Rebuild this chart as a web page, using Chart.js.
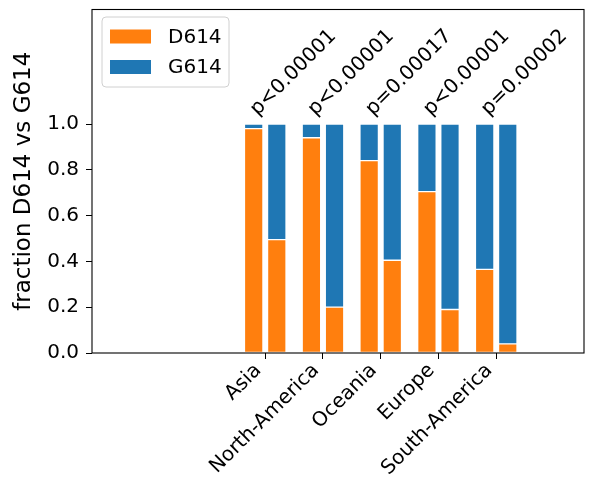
<!DOCTYPE html>
<html lang="en">
<head>
<meta charset="UTF-8">
<title>D614 vs G614</title>
<script src="https://cdn.jsdelivr.net/npm/chart.js"></script>
<style>
  body { margin: 0; background: #fff; }
</style>
</head>
<body>
<canvas id="chart" width="595" height="481"></canvas>
<script>
// data
const regions = ['Asia', 'North-America', 'Oceania', 'Europe', 'South-America'];
// fraction D614 in the left and right bar of each region
const d614Left = [0.98, 0.94, 0.84, 0.705, 0.365];
const d614Right = [0.495, 0.20, 0.405, 0.19, 0.04];
const pLabels = ['p<0.00001', 'p<0.00001', 'p=0.00017', 'p<0.00001', 'p=0.00002'];
const yTicks = [0, 0.2, 0.4, 0.6, 0.8, 1.0];

const orange = '#ff7f0e';
const blue = '#1f77b4';
const FS = 20;

Chart.defaults.font.family = 'DejaVu Sans';
Chart.defaults.font.size = FS;
Chart.defaults.color = '#000';

let dPts = [];
let gPts = [];
regions.forEach((r, i) => {
    dPts.push({x: i - 0.2, y: [0, d614Left[i]]});
    dPts.push({x: i + 0.2, y: [0, d614Right[i]]});
    gPts.push({x: i - 0.2, y: [d614Left[i], 1]});
    gPts.push({x: i + 0.2, y: [d614Right[i], 1]});
});

const framePlugin = {
    id: 'frame',
    afterDatasetsDraw(chart) {
        const ctx = chart.ctx, a = chart.chartArea;
        ctx.save();
        ctx.strokeStyle = '#000';
        ctx.lineWidth = 1.1;
        ctx.strokeRect(a.left, a.top, a.right - a.left, a.bottom - a.top);
        ctx.restore();
    }
};

const pPlugin = {
    id: 'pvalues',
    afterDatasetsDraw(chart) {
        const ctx = chart.ctx;
        const xs = chart.scales.x, ys = chart.scales.y;
        ctx.save();
        ctx.font = FS + 'px "DejaVu Sans"';
        ctx.fillStyle = '#000';
        ctx.textAlign = 'left';
        ctx.textBaseline = 'alphabetic';
        pLabels.forEach((t, i) => {
            const px = xs.getPixelForValue(i - 0.32);
            const py = ys.getPixelForValue(1.02);
            ctx.save();
            ctx.translate(px + 0.707 * 0.76 * FS, py - 0.707 * 0.24 * FS);
            ctx.rotate(-Math.PI / 4);
            ctx.fillText(t, 0, 0);
            ctx.restore();
        });
        ctx.restore();
    }
};

const legendPlugin = {
    id: 'boxLegend',
    afterDraw(chart) {
        const ctx = chart.ctx, a = chart.chartArea;
        const x0 = a.left + 10, y0 = a.top + 7.5, w = 127, h = 70, r = 4;
        ctx.save();
        ctx.beginPath();
        ctx.roundRect(x0, y0, w, h, r);
        ctx.fillStyle = 'rgba(255,255,255,0.8)';
        ctx.fill();
        ctx.strokeStyle = '#d0d0d0';
        ctx.lineWidth = 1;
        ctx.stroke();
        ctx.font = FS + 'px "DejaVu Sans"';
        ctx.textBaseline = 'middle';
        ctx.textAlign = 'left';
        chart.data.datasets.forEach((ds, i) => {
            const cy = a.top + 27 + i * 30.5;
            ctx.fillStyle = ds.backgroundColor;
            ctx.fillRect(a.left + 18, cy - 7, 41, 14);
            ctx.fillStyle = '#000';
            ctx.fillText(ds.label, a.left + 76, cy + 1);
        });
        ctx.restore();
    }
};

new Chart(document.getElementById('chart'), {
    type: 'bar',
    data: {
        datasets: [
            {label: 'D614', data: dPts, backgroundColor: orange, borderColor: 'rgba(255,255,255,0.35)', borderWidth: 1, borderSkipped: false, grouped: false, barThickness: 18.5},
            {label: 'G614', data: gPts, backgroundColor: blue, borderColor: 'rgba(255,255,255,0.35)', borderWidth: 1, borderSkipped: false, grouped: false, barThickness: 18.5}
        ]
    },
    options: {
        responsive: false,
        animation: false,
        devicePixelRatio: 1,
        layout: {padding: {left: 0, top: 9.5, right: 11, bottom: 0}},
        plugins: {legend: {display: false}, tooltip: {enabled: false}},
        scales: {
            x: {
                type: 'linear',
                min: -3,
                max: 5.52,
                offset: false,
                border: {display: false},
                grid: {offset: false, drawOnChartArea: false, drawTicks: true, tickLength: 6, color: '#000'},
                afterBuildTicks: s => { s.ticks = regions.map((r, i) => ({value: i})); },
                afterFit: s => { s.height = 128; s.paddingLeft = 0; s.paddingRight = 0; },
                ticks: {
                    minRotation: 45,
                    maxRotation: 45,
                    padding: 0,
                    labelOffset: -7,
                    callback: v => regions[v]
                }
            },
            y: {
                min: 0,
                max: 1.5,
                border: {display: false},
                grid: {drawOnChartArea: false, drawTicks: true, tickLength: 6, color: '#000'},
                afterBuildTicks: s => { s.ticks = yTicks.map(v => ({value: v})); },
                afterFit: s => { s.width = 92; s.paddingTop = 0; s.paddingBottom = 0; },
                title: {display: true, text: 'fraction D614 vs G614', font: {size: 23}, padding: {top: 10, bottom: 4}},
                ticks: {
                    padding: 7,
                    callback: v => v.toFixed(1)
                }
            }
        }
    },
    plugins: [framePlugin, pPlugin, legendPlugin]
});
</script>
</body>
</html>
